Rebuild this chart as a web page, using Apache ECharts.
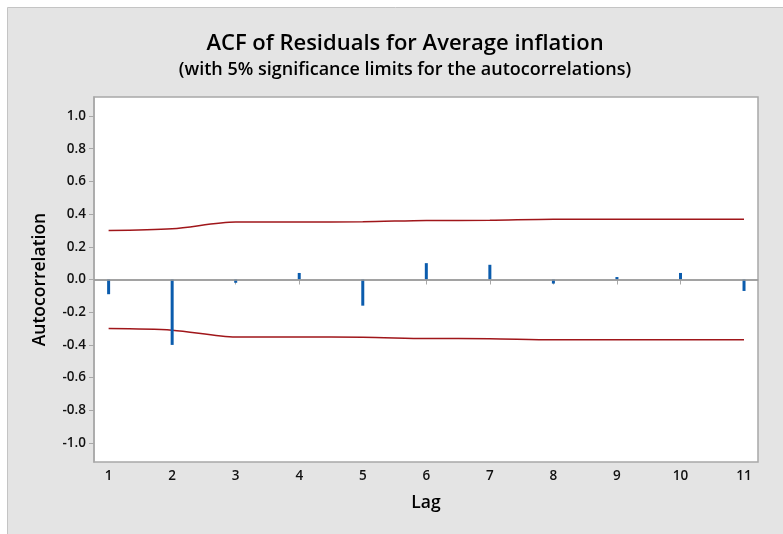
<!DOCTYPE html>
<html><head><meta charset="utf-8">
<script src="https://cdn.jsdelivr.net/npm/echarts@6/dist/echarts.min.js"></script>
<style>html,body{margin:0;padding:0;background:#fff;}#c{width:783px;height:534px;}</style>
</head><body><div id="c"></div>
<script>
const lags = [1,2,3,4,5,6,7,8,9,10,11];
const acf = [-0.09,-0.40,-0.02,0.04,-0.16,0.10,0.09,-0.025,0.015,0.04,-0.07];
const upperLimit = [0.30,0.31,0.352,0.352,0.353,0.361,0.362,0.368,0.368,0.368,0.368];
const lowerLimit = upperLimit.map(v => -v);
const yTicks = [-1.0,-0.8,-0.6,-0.4,-0.2,0.0,0.2,0.4,0.6,0.8,1.0];

const font = '"Open Sans", "Noto Sans", sans-serif';
const chart = echarts.init(document.getElementById('c'), null, {renderer:'canvas'});
chart.setOption({
  animation:false,
  backgroundColor:'#ffffff',
  graphic:[
    {type:'rect', left:7, top:7, shape:{width:776, height:527}, style:{fill:'#e4e4e4', stroke:'#c4c4c4', lineWidth:1}, z:-10}
  ],
  title:{
    text:'ACF of Residuals for Average inflation',
    subtext:'(with 5% significance limits for the autocorrelations)',
    left:400, textAlign:'center', top:28, itemGap:6,
    textStyle:{fontFamily:font, fontSize:22, fontWeight:600, color:'#000'},
    subtextStyle:{fontFamily:font, fontSize:18, fontWeight:600, color:'#000'}
  },
  grid:{left:94, top:97, width:664, height:365, show:true, backgroundColor:'#ffffff', borderColor:'#a8a8a8', borderWidth:1.5},
  xAxis:{
    type:'value', min:0.77, max:11.22,
    name:'Lag', nameLocation:'middle', nameGap:32,
    nameTextStyle:{fontFamily:font, fontSize:17.5, fontWeight:600, color:'#000'},
    axisLine:{show:true, lineStyle:{color:'#a8a8a8', width:1.5}},
    axisTick:{show:true, customValues:lags, length:5, lineStyle:{color:'#a8a8a8'}},
    axisLabel:{customValues:lags, fontFamily:font, fontSize:13.5, fontWeight:600, color:'#111', margin:7},
    splitLine:{show:false}
  },
  yAxis:{
    type:'value', min:-1.116, max:1.116,
    name:'Autocorrelation', nameLocation:'middle', nameGap:45,
    nameTextStyle:{fontFamily:font, fontSize:17.5, fontWeight:600, color:'#000'},
    axisLine:{show:true, lineStyle:{color:'#a8a8a8', width:1.5}},
    axisTick:{show:true, customValues:yTicks, length:5, lineStyle:{color:'#a8a8a8'}},
    axisLabel:{customValues:yTicks, fontFamily:font, fontSize:13.5, fontWeight:600, color:'#111', margin:8,
      formatter:v => v.toFixed(1)},
    splitLine:{show:false}
  },
  series:[
    {type:'line', data:lags.map((l,i)=>[l,upperLimit[i]]), smooth:0.3, showSymbol:false,
      lineStyle:{color:'#a0161a', width:1.5}, z:3},
    {type:'line', data:lags.map((l,i)=>[l,lowerLimit[i]]), smooth:0.3, showSymbol:false,
      lineStyle:{color:'#a0161a', width:1.5}, z:3},
    {type:'bar', data:lags.map((l,i)=>[l,acf[i]]), barWidth:3,
      itemStyle:{color:'#0b5cad'}, z:4,
      markLine:{silent:true, symbol:['none','none'], label:{show:false},
        lineStyle:{color:'#9a9a9a', width:1.5, type:'solid'}, data:[{yAxis:0}]}}
  ]
});
</script></body></html>
